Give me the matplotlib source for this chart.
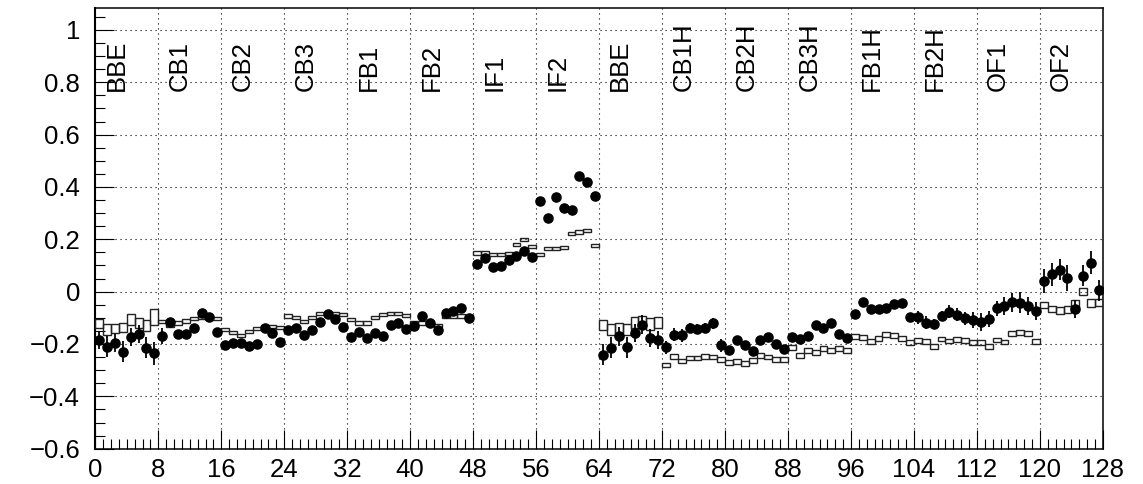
import matplotlib
matplotlib.use("Agg")
import matplotlib.pyplot as plt
from matplotlib.ticker import MultipleLocator, FuncFormatter
import numpy as np

# Channel groups, 8 channels each
group_labels = ["BBE", "CB1", "CB2", "CB3", "FB1", "FB2", "IF1", "IF2",
                "BBE", "CB1H", "CB2H", "CB3H", "FB1H", "FB2H", "OF1", "OF2"]

# Measured asymmetry per channel (filled circles)
meas = [
    -0.185, -0.210, -0.197, -0.229, -0.172, -0.163, -0.214, -0.236,
    -0.169, -0.115, -0.163, -0.163, -0.140, -0.083, -0.096, -0.153,
    -0.204, -0.197, -0.197, -0.208, -0.201, -0.138, -0.157, -0.194,
    -0.146, -0.140, -0.165, -0.146, -0.116, -0.084, -0.103, -0.135,
    -0.172, -0.155, -0.178, -0.157, -0.168, -0.129, -0.120, -0.142,
    -0.133, -0.094, -0.120, -0.145, -0.080, -0.074, -0.061, -0.099,
    0.107, 0.129, 0.093, 0.099, 0.120, 0.137, 0.154, 0.131,
    0.347, 0.280, 0.362, 0.320, 0.311, 0.443, 0.420, 0.364,
    -0.241, -0.215, -0.171, -0.213, -0.158, -0.126, -0.177, -0.186,
    -0.212, -0.164, -0.167, -0.138, -0.142, -0.138, -0.121, -0.204,
    -0.222, -0.183, -0.204, -0.226, -0.183, -0.172, -0.200, -0.219,
    -0.172, -0.181, -0.168, -0.129, -0.138, -0.120, -0.161, -0.177,
    -0.084, -0.039, -0.065, -0.067, -0.061, -0.048, -0.043, -0.097,
    -0.098, -0.118, -0.124, -0.093, -0.076, -0.089, -0.102, -0.108,
    -0.115, -0.104, -0.064, -0.054, -0.041, -0.042, -0.054, -0.074,
    0.041, 0.066, 0.083, 0.051, -0.066, 0.061, 0.111, 0.006,
]
meas_err = [
    0.035, 0.040, 0.035, 0.040, 0.035, 0.035, 0.040, 0.045,
    0.030, 0.012, 0.012, 0.012, 0.012, 0.012, 0.012, 0.012,
    0.012, 0.012, 0.012, 0.012, 0.012, 0.012, 0.012, 0.012,
    0.012, 0.012, 0.012, 0.012, 0.012, 0.012, 0.012, 0.012,
    0.012, 0.012, 0.012, 0.012, 0.012, 0.012, 0.012, 0.012,
    0.012, 0.012, 0.012, 0.012, 0.012, 0.012, 0.012, 0.012,
    0.012, 0.012, 0.012, 0.012, 0.012, 0.012, 0.012, 0.012,
    0.012, 0.012, 0.012, 0.012, 0.012, 0.012, 0.012, 0.012,
    0.040, 0.040, 0.035, 0.040, 0.035, 0.035, 0.035, 0.035,
    0.025, 0.025, 0.025, 0.020, 0.020, 0.020, 0.020, 0.025,
    0.015, 0.015, 0.015, 0.015, 0.015, 0.015, 0.015, 0.015,
    0.015, 0.015, 0.015, 0.015, 0.015, 0.015, 0.015, 0.015,
    0.015, 0.015, 0.015, 0.015, 0.015, 0.015, 0.015, 0.015,
    0.025, 0.025, 0.020, 0.020, 0.025, 0.025, 0.025, 0.030,
    0.035, 0.030, 0.030, 0.035, 0.035, 0.040, 0.035, 0.035,
    0.045, 0.045, 0.040, 0.050, 0.035, 0.040, 0.045, 0.040,
]

# Simulated prediction per channel (open boxes, height = +-1 sigma)
pred = [
    -0.121, -0.145, -0.141, -0.137, -0.106, -0.120, -0.130, -0.097,
    -0.114, -0.130, -0.120, -0.112, -0.103, -0.097, -0.097, -0.102,
    -0.143, -0.157, -0.166, -0.153, -0.140, -0.134, -0.134, -0.136,
    -0.093, -0.100, -0.115, -0.100, -0.085, -0.085, -0.085, -0.087,
    -0.105, -0.120, -0.120, -0.100, -0.088, -0.082, -0.082, -0.090,
    -0.120, -0.120, -0.125, -0.130, -0.095, -0.093, -0.093, -0.095,
    0.148, 0.148, 0.142, 0.142, 0.145, 0.180, 0.200, 0.172,
    0.142, 0.164, 0.166, 0.170, 0.223, 0.228, 0.234, 0.178,
    -0.128, -0.144, -0.138, -0.144, -0.118, -0.115, -0.123, -0.118,
    -0.280, -0.247, -0.265, -0.254, -0.254, -0.247, -0.250, -0.259,
    -0.271, -0.267, -0.274, -0.262, -0.245, -0.250, -0.260, -0.258,
    -0.213, -0.245, -0.225, -0.232, -0.218, -0.226, -0.218, -0.226,
    -0.170, -0.176, -0.190, -0.180, -0.163, -0.168, -0.180, -0.195,
    -0.187, -0.190, -0.210, -0.181, -0.188, -0.183, -0.186, -0.195,
    -0.195, -0.209, -0.185, -0.192, -0.159, -0.155, -0.159, -0.190,
    -0.051, -0.066, -0.071, -0.069, -0.047, 0.001, -0.043, -0.042,
]
pred_err = [
    0.018, 0.020, 0.017, 0.016, 0.022, 0.020, 0.022, 0.030,
    0.006, 0.006, 0.006, 0.006, 0.006, 0.006, 0.006, 0.006,
    0.006, 0.006, 0.006, 0.006, 0.006, 0.006, 0.006, 0.006,
    0.006, 0.006, 0.006, 0.006, 0.006, 0.006, 0.006, 0.006,
    0.006, 0.006, 0.006, 0.006, 0.006, 0.006, 0.006, 0.006,
    0.006, 0.006, 0.006, 0.006, 0.006, 0.006, 0.006, 0.006,
    0.006, 0.006, 0.006, 0.006, 0.006, 0.006, 0.006, 0.006,
    0.006, 0.006, 0.006, 0.006, 0.006, 0.006, 0.006, 0.006,
    0.019, 0.020, 0.019, 0.020, 0.020, 0.022, 0.022, 0.020,
    0.009, 0.009, 0.009, 0.009, 0.009, 0.009, 0.009, 0.009,
    0.009, 0.009, 0.009, 0.009, 0.009, 0.009, 0.009, 0.009,
    0.009, 0.009, 0.009, 0.009, 0.009, 0.009, 0.009, 0.009,
    0.009, 0.009, 0.009, 0.009, 0.009, 0.009, 0.009, 0.009,
    0.009, 0.009, 0.009, 0.009, 0.009, 0.009, 0.009, 0.009,
    0.009, 0.009, 0.009, 0.009, 0.009, 0.009, 0.009, 0.009,
    0.013, 0.013, 0.013, 0.013, 0.017, 0.014, 0.014, 0.013,
]

tick_font = ["Liberation Sans Narrow", "Liberation Sans", "DejaVu Sans"]
label_font = ["Liberation Sans", "DejaVu Sans"]

fig = plt.figure(figsize=(11.43, 4.84), dpi=100)
ax = fig.add_axes([0.0834, 0.073, 0.8815, 0.911])

chan = np.arange(len(meas)) + 0.5
meas_a = np.array(meas)
pred_a = np.array(pred)
pred_e = np.array(pred_err)

# prediction boxes
ax.bar(chan, 2 * pred_e, bottom=pred_a - pred_e, width=1.0,
       fill=False, edgecolor="#222222", linewidth=1.0, zorder=3)

# measurements with error bars
ax.errorbar(chan, meas_a, yerr=meas_err, fmt="o", color="black",
            ms=6.6, elinewidth=1.3, capsize=0, zorder=4)

# group names
for k, name in enumerate(group_labels):
    ax.text(8 * k + 2.7, 0.765, name, rotation=90, ha="center", va="bottom",
            fontsize=18.5, family=label_font, color="black", zorder=5)

ax.set_xlim(0, 128)
ax.set_ylim(-0.6, 1.085)

ax.xaxis.set_major_locator(MultipleLocator(8))
ax.xaxis.set_minor_locator(MultipleLocator(1))
ax.yaxis.set_major_locator(MultipleLocator(0.2))
ax.yaxis.set_minor_locator(MultipleLocator(0.05))

def fmt(v, pos):
    v = round(v, 3)
    if abs(v) < 1e-9:
        return "0"
    s = "%g" % v
    return s.replace("-", "\u2212")

ax.yaxis.set_major_formatter(FuncFormatter(fmt))

ax.tick_params(axis="both", which="major", direction="in", length=14,
               width=0.8, top=False, right=False)
ax.tick_params(axis="both", which="minor", direction="in", length=7,
               width=0.8, top=False, right=False)
ax.tick_params(axis="y", which="major", pad=11)
ax.tick_params(axis="x", which="major", pad=7)

for lbl in ax.get_xticklabels() + ax.get_yticklabels():
    lbl.set_family(tick_font)
    lbl.set_fontsize(18.5)

ax.grid(True, which="major", color="black", linestyle=(0, (1, 3.5)),
        linewidth=0.8)
ax.set_axisbelow(True)

for side in ["top", "right", "bottom"]:
    ax.spines[side].set_linewidth(1.1)
ax.spines["left"].set_linewidth(1.5)

fig.savefig("out.png", dpi=100)
